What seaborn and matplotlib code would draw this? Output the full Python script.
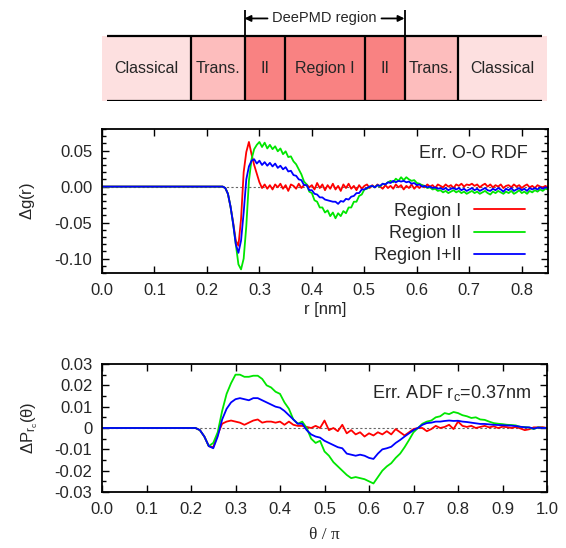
import numpy as np
import pandas as pd
import matplotlib
matplotlib.use('Agg')
import matplotlib.pyplot as plt
import seaborn as sns
from matplotlib.ticker import MultipleLocator, FuncFormatter

sns.set_style('ticks')
plt.rcParams['font.family'] = ['Liberation Sans', 'DejaVu Sans']
plt.rcParams['axes.unicode_minus'] = False
plt.rcParams['mathtext.default'] = 'regular'

# schematic of the simulation box
region_names = ['Classical', 'Trans.', 'II', 'Region I', 'II', 'Trans.', 'Classical']
region_widths = [8.9, 5.35, 4.0, 8.0, 4.0, 5.35, 8.9]
region_colors = ['#fde0e0', '#fdbdbd', '#f98282', '#f98282', '#f98282', '#fdbdbd', '#fde0e0']

# O-O RDF error, r in nm
r_head = [0.0, 0.1, 0.2]
rdf_head = [0.0, 0.0, 0.0]
r_grid = np.round(np.arange(0.225, 0.8501, 0.005), 3)
rdf_region1 = [
    0.000, 0.000, -0.002, -0.010, -0.028, -0.050, -0.075, -0.082, -0.045, 0.020,
    0.048, 0.062, 0.045, 0.030, 0.018, 0.006, -0.002, 0.003, -0.003, 0.002,
    -0.004, 0.003, -0.001, 0.004, -0.003, 0.002, -0.006, 0.003, 0.001, -0.003,
    0.004, -0.002, 0.002, 0.003, -0.001, 0.002, -0.004, 0.005, -0.002, 0.003,
    -0.005, 0.002, -0.003, 0.004, -0.004, 0.001, -0.006, 0.003, -0.002, 0.004,
    -0.003, 0.001, -0.005, 0.002, -0.003, 0.001, 0.003, -0.002, 0.002, -0.001,
    0.003, 0.000, -0.003, 0.002, -0.002, 0.001, -0.003, 0.003, -0.001, 0.002,
    -0.004, 0.001, -0.002, 0.003, -0.003, 0.001, -0.002, 0.002, -0.001, 0.003,
    0.000, 0.002, -0.002, 0.003, 0.001, -0.001, 0.003, 0.000, 0.002, -0.002,
    0.003, 0.001, 0.004, 0.000, 0.003, 0.002, 0.004, 0.001, 0.003, -0.001,
    0.002, 0.004, 0.000, 0.003, -0.001, 0.002, 0.000, 0.003, -0.002, 0.001,
    0.002, -0.001, 0.003, 0.000, 0.002, -0.002, 0.001, 0.003, -0.001, 0.001,
    -0.002, 0.002, 0.000, -0.001, 0.001, -0.001]
rdf_region2 = [
    0.000, 0.000, -0.002, -0.010, -0.028, -0.052, -0.080, -0.108, -0.115, -0.100,
    -0.055, 0.008, 0.038, 0.052, 0.058, 0.062, 0.055, 0.061, 0.053, 0.058,
    0.052, 0.056, 0.049, 0.053, 0.045, 0.049, 0.041, 0.042, 0.035, 0.031,
    0.024, 0.017, 0.007, 0.003, -0.007, -0.009, -0.019, -0.021, -0.029, -0.029,
    -0.036, -0.033, -0.041, -0.036, -0.044, -0.037, -0.041, -0.034, -0.037, -0.029,
    -0.029, -0.021, -0.021, -0.013, -0.011, -0.004, -0.003, 0.000, 0.001, -0.001,
    0.002, 0.000, 0.004, 0.003, 0.006, 0.008, 0.006, 0.011, 0.008, 0.013,
    0.009, 0.013, 0.010, 0.008, 0.009, 0.005, 0.004, 0.002, 0.001, -0.002,
    -0.001, -0.004, -0.003, -0.006, -0.005, -0.008, -0.006, -0.009, -0.007, -0.005,
    -0.008, -0.006, -0.009, -0.007, -0.010, -0.008, -0.006, -0.009, -0.007, -0.010,
    -0.008, -0.006, -0.009, -0.011, -0.007, -0.009, -0.006, -0.008, -0.010, -0.007,
    -0.009, -0.006, -0.010, -0.008, -0.005, -0.009, -0.007, -0.010, -0.006, -0.008,
    -0.005, -0.007, -0.004, -0.006, -0.003, -0.004]
rdf_region12 = [
    0.000, 0.000, -0.002, -0.010, -0.028, -0.052, -0.080, -0.092, -0.075, -0.036,
    0.010, 0.028, 0.036, 0.038, 0.032, 0.036, 0.030, 0.034, 0.029, 0.033,
    0.028, 0.032, 0.026, 0.029, 0.024, 0.027, 0.021, 0.022, 0.016, 0.015,
    0.010, 0.009, 0.002, 0.002, -0.005, -0.005, -0.010, -0.011, -0.015, -0.015,
    -0.018, -0.019, -0.020, -0.021, -0.021, -0.024, -0.020, -0.021, -0.017, -0.018,
    -0.014, -0.013, -0.009, -0.009, -0.004, -0.004, -0.002, 0.000, 0.001, -0.001,
    0.002, 0.001, 0.004, 0.003, 0.006, 0.005, 0.008, 0.006, 0.008, 0.007,
    0.008, 0.006, 0.007, 0.004, 0.005, 0.002, 0.003, 0.000, 0.001, -0.001,
    0.000, -0.002, -0.001, -0.003, -0.002, -0.004, -0.002, -0.005, -0.003, -0.002,
    -0.004, -0.002, -0.005, -0.003, -0.006, -0.004, -0.002, -0.005, -0.003, -0.006,
    -0.004, -0.002, -0.005, -0.006, -0.003, -0.005, -0.002, -0.004, -0.007, -0.003,
    -0.005, -0.002, -0.006, -0.004, -0.002, -0.005, -0.003, -0.006, -0.002, -0.004,
    -0.002, -0.004, -0.001, -0.003, -0.001, -0.002]

# ADF error, theta in units of pi
th_head = [0.0, 0.1]
adf_head = [0.0, 0.0]
th_grid = np.round(np.arange(0.20, 1.0001, 0.01), 2)
adf_region1 = [
    0.0, 0.0, -0.001, -0.004, -0.0085, -0.009, -0.003, 0.002, 0.003, 0.0035,
    0.003, 0.0025, 0.0015, 0.0025, 0.0035, 0.004, 0.0025, 0.003, 0.003, 0.0025,
    0.003, 0.0015, 0.003, 0.0015, 0.001, 0.001, 0.0005, 0.0, 0.001, 0.0,
    0.0035, -0.001, 0.0, -0.0015, 0.0015, -0.0025, -0.001, -0.003, -0.002, -0.004,
    -0.0025, -0.0035, -0.002, -0.003, -0.0015, -0.003, -0.0005, -0.002, -0.0035, -0.002,
    -0.0005, 0.0, 0.0, -0.0015, -0.0005, 0.001, 0.0, 0.0005, 0.0015, -0.0005,
    0.003, 0.001, 0.0005, 0.001, 0.0, 0.0005, 0.001, 0.0003, 0.0008, 0.0,
    0.0006, 0.0004, 0.0, 0.0005, -0.0002, -0.001, -0.0006, 0.0003, 0.0003, 0.0004,
    0.0]
adf_region2 = [
    0.0, 0.0, -0.001, -0.004, -0.0085, -0.007, -0.002, 0.008, 0.016, 0.021,
    0.025, 0.025, 0.024, 0.024, 0.0245, 0.0245, 0.023, 0.020, 0.019, 0.017,
    0.016, 0.012, 0.009, 0.004, 0.002, 0.003, 0.000, -0.005, -0.007, -0.006,
    -0.011, -0.013, -0.016, -0.018, -0.020, -0.022, -0.0235, -0.023, -0.0235, -0.024,
    -0.025, -0.026, -0.023, -0.020, -0.018, -0.0165, -0.014, -0.012, -0.009, -0.0056,
    -0.002, 0.000, 0.002, 0.003, 0.0035, 0.005, 0.0055, 0.007, 0.0065, 0.0075,
    0.007, 0.006, 0.0055, 0.0047, 0.005, 0.004, 0.0038, 0.003, 0.0023, 0.002,
    0.0018, 0.0015, 0.0014, 0.0012, 0.0005, 0.0005, 0.0002, -0.0005, 0.0003, 0.0001,
    0.0]
adf_region12 = [
    0.0, 0.0, -0.001, -0.004, -0.0085, -0.0095, -0.004, 0.004, 0.009, 0.012,
    0.0135, 0.014, 0.0135, 0.013, 0.014, 0.014, 0.013, 0.012, 0.011, 0.010,
    0.0095, 0.008, 0.006, 0.004, 0.002, 0.002, -0.001, -0.003, -0.004, -0.0045,
    -0.006, -0.007, -0.008, -0.009, -0.0095, -0.012, -0.0125, -0.013, -0.0125, -0.013,
    -0.014, -0.0145, -0.012, -0.010, -0.0095, -0.0088, -0.007, -0.0056, -0.004, -0.0025,
    -0.001, 0.000, 0.0015, 0.0023, 0.0025, 0.003, 0.003, 0.0033, 0.0035, 0.0033,
    0.0034, 0.003, 0.0028, 0.0025, 0.0022, 0.0019, 0.0019, 0.0017, 0.0015, 0.0014,
    0.0013, 0.0012, 0.0011, 0.0009, 0.0006, 0.0003, 0.0003, -0.0003, 0.0002, 0.0,
    0.0]

series_labels = ['Region I', 'Region II', 'Region I+II']
series_colors = ['#ff0000', '#00e600', '#0000ff']

r_all = np.concatenate([r_head, r_grid])
th_all = np.concatenate([th_head, th_grid])
rdf_df = pd.DataFrame({'r': r_all,
                       'Region I': rdf_head + rdf_region1,
                       'Region II': rdf_head + rdf_region2,
                       'Region I+II': rdf_head + rdf_region12})
adf_df = pd.DataFrame({'th': th_all,
                       'Region I': adf_head + adf_region1,
                       'Region II': adf_head + adf_region2,
                       'Region I+II': adf_head + adf_region12})

W, H = 566, 548
fig = plt.figure(figsize=(W / 100, H / 100), dpi=100)

# ---- top schematic
ax0 = fig.add_axes([102 / W, 1 - 101 / H, 445 / W, 96 / H])
edges = np.concatenate([[0], np.cumsum(region_widths)])
total = edges[-1]
ax0.barh(0.5, region_widths, left=edges[:-1], height=1.0, color=region_colors, linewidth=0)
for name, a, b in zip(region_names, edges[:-1], edges[1:]):
    ax0.text((a + b) / 2, 0.5, name, ha='center', va='center', fontsize=11.5)
ax0.hlines([0.0, 1.0], 0.5, total - 0.5, color='black', lw=1.6)
ax0.vlines(edges[1:-1], 0, 1, color='black', lw=1.6)
ax0.vlines([edges[2], edges[5]], 1, 1.4, color='black', lw=1.3)
mid = (edges[2] + edges[5]) / 2
ax0.text(mid, 1.27, 'DeePMD region', ha='center', va='center', fontsize=10.5)
arr = dict(arrowstyle='-|>', color='black', lw=1.3, mutation_scale=9, shrinkA=0, shrinkB=0)
ax0.annotate('', xy=(edges[2], 1.27), xytext=(mid - 5.7, 1.27), arrowprops=arr)
ax0.annotate('', xy=(edges[5], 1.27), xytext=(mid + 5.7, 1.27), arrowprops=arr)
ax0.set_xlim(0, total)
ax0.set_ylim(0, 96 / 65)
ax0.axis('off')


def style_axes(ax):
    ax.tick_params(which='both', direction='in', top=True, right=True,
                   labelsize=12, pad=7, width=1.0, color='black')
    ax.tick_params(which='major', length=5)
    ax.tick_params(which='minor', length=3)
    for s in ax.spines.values():
        s.set_linewidth(1.3)
        s.set_color('black')


# ---- RDF panel
ax1 = fig.add_axes([102 / W, 1 - 273 / H, 446 / W, 144 / H])
ax1.axhline(0, color='#666666', lw=0.8, ls=(0, (2, 2)))
for lab, col in zip(series_labels, series_colors):
    sns.lineplot(data=rdf_df, x='r', y=lab, color=col, lw=1.3, ax=ax1, label=lab)
ax1.set_xlim(0, 0.85)
ax1.set_ylim(-0.12, 0.08)
ax1.xaxis.set_major_locator(MultipleLocator(0.1))
ax1.yaxis.set_major_locator(MultipleLocator(0.05))
ax1.yaxis.set_minor_locator(MultipleLocator(0.01))
ax1.xaxis.set_major_formatter(FuncFormatter(lambda v, p: '%.1f' % v))
ax1.yaxis.set_major_formatter(FuncFormatter(lambda v, p: '%.2f' % v))
style_axes(ax1)
ax1.set_xlabel('r [nm]', fontsize=12)
ax1.set_ylabel(r'$\Delta$g(r)', fontsize=12)
ax1.xaxis.set_label_coords(0.5, -0.2)
ax1.yaxis.set_label_coords(-0.145, 0.5)
ax1.text(0.955, 0.83, 'Err. O-O RDF', transform=ax1.transAxes, ha='right', va='center', fontsize=13)
ax1.legend(loc='lower right', bbox_to_anchor=(0.948, 0.06), frameon=False, markerfirst=False,
           fontsize=13, handlelength=2.8, handletextpad=0.7, labelspacing=0.3,
           borderaxespad=0, borderpad=0)

# ---- ADF panel
ax2 = fig.add_axes([102 / W, 1 - 492 / H, 445 / W, 128 / H])
ax2.axhline(0, color='#666666', lw=0.8, ls=(0, (2, 2)))
for lab, col in zip(series_labels, series_colors):
    sns.lineplot(data=adf_df, x='th', y=lab, color=col, lw=1.3, ax=ax2, legend=False)
ax2.set_xlim(0, 1.0)
ax2.set_ylim(-0.03, 0.03)
ax2.xaxis.set_major_locator(MultipleLocator(0.1))
ax2.yaxis.set_major_locator(MultipleLocator(0.01))
ax2.yaxis.set_minor_locator(MultipleLocator(0.005))
ax2.xaxis.set_major_formatter(FuncFormatter(lambda v, p: '%.1f' % v))
ax2.yaxis.set_major_formatter(FuncFormatter(lambda v, p: '%g' % round(v, 3)))
style_axes(ax2)
ax2.set_xlabel('θ / π', fontsize=12.5, family=['Liberation Serif', 'DejaVu Serif'])
ax2.set_ylabel(r'$\Delta P_{r_c}(\theta)$', fontsize=12)
ax2.xaxis.set_label_coords(0.5, -0.275)
ax2.yaxis.set_label_coords(-0.14, 0.5)
ax2.text(0.965, 0.77, r'Err. ADF r$_c$=0.37nm', transform=ax2.transAxes, ha='right', va='center', fontsize=13)

fig.savefig('out.png', dpi=100)
